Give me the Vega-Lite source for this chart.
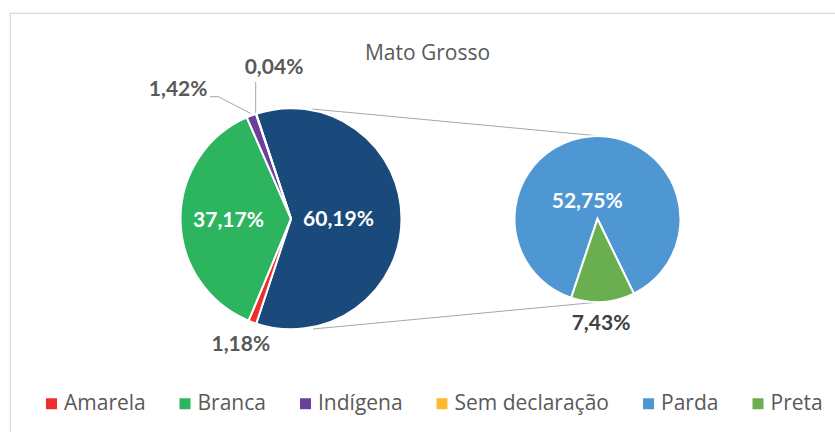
{
  "$schema": "https://vega.github.io/schema/vega-lite/v6.json",
  "width": 835,
  "height": 432,
  "autosize": {"type": "none"},
  "padding": {"left": 10, "top": 13, "right": 0, "bottom": 0},
  "background": "white",
  "config": {
    "view": {"stroke": "#D9D9D9", "strokeWidth": 1.25},
    "font": "Open Sans",
    "legend": {
      "symbolType": "square",
      "symbolSize": 121,
      "symbolStrokeWidth": 0,
      "labelFont": "Open Sans",
      "labelFontSize": 21,
      "labelColor": "#595959",
      "labelOffset": 2,
      "columnPadding": 28.5,
      "padding": 0,
      "labelLimit": 400
    }
  },
  "title": {
    "text": "Mato Grosso",
    "font": "Open Sans",
    "fontSize": 21,
    "fontWeight": "normal",
    "color": "#595959",
    "anchor": "middle",
    "frame": "group",
    "offset": -68,
    "baseline": "alphabetic"
  },
  "data": {
    "values": [
      {"grafico": "principal", "grupo": "Parda e Preta", "pct": 60.19, "ordem": 1},
      {"grafico": "principal", "grupo": "Amarela", "pct": 1.18, "ordem": 2},
      {"grafico": "principal", "grupo": "Branca", "pct": 37.17, "ordem": 3},
      {"grafico": "principal", "grupo": "Indígena", "pct": 1.42, "ordem": 4},
      {"grafico": "principal", "grupo": "Sem declaração", "pct": 0.04, "ordem": 5},
      {"grafico": "secundario", "grupo": "Parda", "pct": 52.75, "ordem": 1},
      {"grafico": "secundario", "grupo": "Preta", "pct": 7.43, "ordem": 2}
    ]
  },
  "layer": [
    {
      "data": {"values": [{}]},
      "layer": [
        {
          "mark": {"type": "rule", "color": "#A6A6A6", "strokeWidth": 1},
          "encoding": {
            "x": {"datum": 36.168, "type": "quantitative", "scale": {"domain": [0, 100], "nice": false, "zero": false}, "axis": null},
            "y": {"datum": 22.222, "type": "quantitative", "scale": {"domain": [0, 100], "nice": false, "zero": false, "reverse": true}, "axis": null},
            "x2": {"datum": 70.359},
            "y2": {"datum": 28.426}
          }
        },
        {
          "mark": {"type": "rule", "color": "#A6A6A6", "strokeWidth": 1},
          "encoding": {
            "x": {"datum": 36.287, "type": "quantitative", "scale": {"domain": [0, 100], "nice": false, "zero": false}, "axis": null},
            "y": {"datum": 73.148, "type": "quantitative", "scale": {"domain": [0, 100], "nice": false, "zero": false, "reverse": true}, "axis": null},
            "x2": {"datum": 70.359},
            "y2": {"datum": 66.944}
          }
        },
        {
          "mark": {"type": "rule", "color": "#A6A6A6", "strokeWidth": 1},
          "encoding": {
            "x": {"datum": 29.425, "type": "quantitative", "scale": {"domain": [0, 100], "nice": false, "zero": false}, "axis": null},
            "y": {"datum": 15.972, "type": "quantitative", "scale": {"domain": [0, 100], "nice": false, "zero": false, "reverse": true}, "axis": null},
            "x2": {"datum": 29.425},
            "y2": {"datum": 23.148}
          }
        },
        {
          "mark": {"type": "rule", "color": "#A6A6A6", "strokeWidth": 1},
          "encoding": {
            "x": {"datum": 28.802, "type": "quantitative", "scale": {"domain": [0, 100], "nice": false, "zero": false}, "axis": null},
            "y": {"datum": 23.218, "type": "quantitative", "scale": {"domain": [0, 100], "nice": false, "zero": false, "reverse": true}, "axis": null},
            "x2": {"datum": 24.946},
            "y2": {"datum": 19.375}
          }
        },
        {
          "mark": {"type": "rule", "color": "#A6A6A6", "strokeWidth": 1},
          "encoding": {
            "x": {"datum": 24.946, "type": "quantitative", "scale": {"domain": [0, 100], "nice": false, "zero": false}, "axis": null},
            "y": {"datum": 19.375, "type": "quantitative", "scale": {"domain": [0, 100], "nice": false, "zero": false, "reverse": true}, "axis": null},
            "x2": {"datum": 23.952},
            "y2": {"datum": 19.375}
          }
        }
      ]
    },
    {
      "transform": [
        {"filter": "datum.grafico === 'principal'"},
        {"window": [{"op": "sum", "field": "pct", "as": "fim"}], "sort": [{"field": "ordem"}], "frame": [null, 0]},
        {"calculate": "datum.fim - datum.pct", "as": "inicio"},
        {"calculate": "datum.fim - datum.pct / 2", "as": "meio"},
        {"calculate": "replace(format(datum.pct, '.2f'), '.', ',') + '%'", "as": "rotulo"}
      ],
      "encoding": {
        "x": {"datum": 33.653, "type": "quantitative", "scale": {"domain": [0, 100], "nice": false, "zero": false}, "axis": null},
        "y": {"datum": 47.616, "type": "quantitative", "scale": {"domain": [0, 100], "nice": false, "zero": false, "reverse": true}, "axis": null}
      },
      "layer": [
        {
          "mark": {"type": "arc", "radius": 110.5, "stroke": "white", "strokeWidth": 2},
          "encoding": {
            "theta": {"field": "inicio", "type": "quantitative", "stack": null, "scale": {"domain": [0, 100], "range": [-0.32013, 5.96306]}},
            "theta2": {"field": "fim"},
            "color": {
              "field": "grupo",
              "type": "nominal",
              "scale": {
                "domain": ["Amarela", "Branca", "Indígena", "Sem declaração", "Parda", "Preta", "Parda e Preta"],
                "range": ["#EE2E2E", "#2DB45F", "#6A409C", "#FDBA2C", "#4F97D2", "#6AAF4F", "#1A4A7B"]
              },
              "legend": {
                "values": ["Amarela", "Branca", "Indígena", "Sem declaração", "Parda", "Preta"],
                "title": null,
                "orient": "none",
                "direction": "horizontal",
                "columns": 6,
                "legendX": 31,
                "legendY": 380
              }
            }
          }
        },
        {
          "transform": [{"filter": "datum.grupo === 'Parda e Preta' || datum.grupo === 'Branca'"}],
          "mark": {"type": "text", "font": "Lato", "fontWeight": "bold", "fontSize": 21, "color": "white", "radius": 55, "dx": -7.5, "dy": 1.5, "align": "center", "baseline": "middle"},
          "encoding": {
            "theta": {"field": "meio", "type": "quantitative", "stack": null, "scale": {"domain": [0, 100], "range": [-0.32013, 5.96306]}},
            "text": {"field": "rotulo"}
          }
        },
        {
          "transform": [{"filter": "datum.grupo === 'Amarela'"}],
          "mark": {"type": "text", "font": "Lato", "fontWeight": "bold", "fontSize": 21, "color": "#595959", "radius": 135, "dx": -3, "dy": 0, "align": "center", "baseline": "middle"},
          "encoding": {
            "theta": {"field": "meio", "type": "quantitative", "stack": null, "scale": {"domain": [0, 100], "range": [-0.32013, 5.96306]}},
            "text": {"field": "rotulo"}
          }
        },
        {
          "transform": [{"filter": "datum.grupo === 'Indígena'"}],
          "mark": {"type": "text", "font": "Lato", "fontWeight": "bold", "fontSize": 21, "color": "#595959", "radius": 150, "dx": -59, "dy": 11.3, "align": "center", "baseline": "middle"},
          "encoding": {
            "theta": {"field": "meio", "type": "quantitative", "stack": null, "scale": {"domain": [0, 100], "range": [-0.32013, 5.96306]}},
            "text": {"field": "rotulo"}
          }
        },
        {
          "transform": [{"filter": "datum.grupo === 'Sem declaração'"}],
          "mark": {"type": "text", "font": "Lato", "fontWeight": "bold", "fontSize": 21, "color": "#595959", "radius": 150, "dx": 30.4, "dy": -8.4, "align": "center", "baseline": "middle"},
          "encoding": {
            "theta": {"field": "meio", "type": "quantitative", "stack": null, "scale": {"domain": [0, 100], "range": [-0.32013, 5.96306]}},
            "text": {"field": "rotulo"}
          }
        }
      ]
    },
    {
      "transform": [
        {"filter": "datum.grafico === 'secundario'"},
        {"window": [{"op": "sum", "field": "pct", "as": "fim"}], "sort": [{"field": "ordem"}], "frame": [null, 0]},
        {"calculate": "datum.fim - datum.pct", "as": "inicio"},
        {"calculate": "datum.fim - datum.pct / 2", "as": "meio"},
        {"calculate": "replace(format(datum.pct, '.2f'), '.', ',') + '%'", "as": "rotulo"}
      ],
      "encoding": {
        "x": {"datum": 70.359, "type": "quantitative", "scale": {"domain": [0, 100], "nice": false, "zero": false}, "axis": null},
        "y": {"datum": 47.685, "type": "quantitative", "scale": {"domain": [0, 100], "nice": false, "zero": false, "reverse": true}, "axis": null}
      },
      "layer": [
        {
          "mark": {"type": "arc", "radius": 83, "stroke": "white", "strokeWidth": 2},
          "encoding": {
            "theta": {"field": "inicio", "type": "quantitative", "stack": null, "scale": {"domain": [0, 60.18], "range": [-2.81958, 3.46361]}},
            "theta2": {"field": "fim"},
            "color": {
              "field": "grupo",
              "type": "nominal",
              "scale": {
                "domain": ["Amarela", "Branca", "Indígena", "Sem declaração", "Parda", "Preta", "Parda e Preta"],
                "range": ["#EE2E2E", "#2DB45F", "#6A409C", "#FDBA2C", "#4F97D2", "#6AAF4F", "#1A4A7B"]
              },
              "legend": {
                "values": ["Amarela", "Branca", "Indígena", "Sem declaração", "Parda", "Preta"],
                "title": null,
                "orient": "none",
                "direction": "horizontal",
                "columns": 6,
                "legendX": 31,
                "legendY": 380
              }
            }
          }
        },
        {
          "transform": [{"filter": "datum.grupo === 'Parda'"}],
          "mark": {"type": "text", "font": "Lato", "fontWeight": "bold", "fontSize": 21, "color": "white", "radius": 20, "dx": -9, "dy": 3, "align": "center", "baseline": "middle"},
          "encoding": {
            "theta": {"field": "meio", "type": "quantitative", "stack": null, "scale": {"domain": [0, 60.18], "range": [-2.81958, 3.46361]}},
            "text": {"field": "rotulo"}
          }
        },
        {
          "transform": [{"filter": "datum.grupo === 'Preta'"}],
          "mark": {"type": "text", "font": "Lato", "fontWeight": "bold", "fontSize": 21, "color": "#404040", "radius": 105, "dx": -3.4, "dy": 0, "align": "center", "baseline": "middle"},
          "encoding": {
            "theta": {"field": "meio", "type": "quantitative", "stack": null, "scale": {"domain": [0, 60.18], "range": [-2.81958, 3.46361]}},
            "text": {"field": "rotulo"}
          }
        }
      ]
    }
  ],
  "resolve": {"scale": {"theta": "independent"}}
}
